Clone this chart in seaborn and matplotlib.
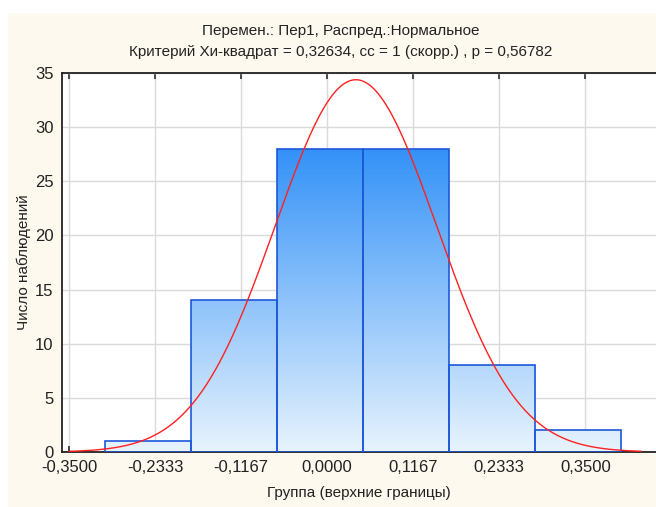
import numpy as np
import pandas as pd
import matplotlib
matplotlib.use("Agg")
import matplotlib.pyplot as plt
from matplotlib.patches import Rectangle
import seaborn as sns

# ---- data ----
bin_edges = [-0.3013, -0.1847, -0.0680, 0.0487, 0.1653, 0.2820, 0.3987]
counts = [1, 14, 28, 28, 8, 2]
tick_values = [-0.35, -0.2333, -0.1167, 0.0, 0.1167, 0.2333, 0.35]
tick_labels = ["-0,3500", "-0,2333", "-0,1167", "0,0000", "0,1167", "0,2333", "0,3500"]
y_ticks = [0, 5, 10, 15, 20, 25, 30, 35]
fit_mean = 0.039
fit_sd = 0.1096
curve_range = (-0.35, 0.4257)
title1 = "Перемен.: Пер1, Распред.:Нормальное"
title2 = "Критерий Хи-квадрат = 0,32634, cc = 1 (скорр.) , p = 0,56782"
xlabel = "Группа (верхние границы)"
ylabel = "Число наблюдений"

sns.set_theme(style="white")
plt.rcParams['font.family'] = ['Liberation Sans', 'DejaVu Sans']

W, H = 656, 507
fig = plt.figure(figsize=(W / 100, H / 100), dpi=100)
fig.patch.set_facecolor("white")
fig.patches.append(Rectangle((8 / W, 0), 1 - 8 / W, 1 - 13 / H, transform=fig.transFigure,
                             facecolor="#FEF9EE", edgecolor="none", zorder=-10))

ax = fig.add_axes([62 / W, 1 - 452 / H, (656 - 62) / W, (452 - 73) / H])
ax.set_facecolor("white")

centers = [(bin_edges[i] + bin_edges[i + 1]) / 2 for i in range(len(counts))]
df = pd.DataFrame({"x": centers, "w": counts})
sns.histplot(data=df, x="x", weights="w", bins=bin_edges, ax=ax,
             stat="count", element="bars", fill=True,
             facecolor="none", edgecolor="#1C58DA", linewidth=1.2, alpha=1)

ax.set_xlim(-0.3595, 0.4459)
ax.set_ylim(0, 35)

# gradient fill clipped to bars
grad = np.linspace(0, 1, 256).reshape(-1, 1)
c_low = np.array([0.91, 0.955, 0.995])
c_high = np.array([0.20, 0.57, 0.97])
img = c_low + (c_high - c_low) * (grad / (28 / 35))
img = np.clip(img, 0, 1).reshape(256, 1, 3)
for p in list(ax.patches):
    p.set_zorder(3)
    im = ax.imshow(img, extent=(-0.3595, 0.4459, 0, 35), origin="lower",
                   aspect="auto", zorder=2, interpolation="bilinear")
    im.set_clip_path(p)
ax.set_xlim(-0.3595, 0.4459)
ax.set_ylim(0, 35)

# fitted normal curve
n = sum(counts)
bw = bin_edges[1] - bin_edges[0]
xs = np.linspace(curve_range[0], curve_range[1], 400)
ys = n * bw * np.exp(-0.5 * ((xs - fit_mean) / fit_sd) ** 2) / (fit_sd * np.sqrt(2 * np.pi))
sns.lineplot(x=xs, y=ys, ax=ax, color="#FF2020", linewidth=1.0, zorder=4)

ax.set_xticks(tick_values)
ax.set_xticklabels(tick_labels)
ax.set_yticks(y_ticks)
ax.set_yticklabels([str(v) for v in y_ticks])
ax.grid(True, color="#DADADA", linewidth=1.0, zorder=0)
ax.set_axisbelow(True)
ax.tick_params(axis="x", direction="in", length=4, color="#333333", labelsize=12,
               top=True, bottom=True, pad=6, labelcolor="#222222")
ax.tick_params(axis="y", direction="in", length=0, labelsize=12, pad=6, labelcolor="#222222")
for s in ["top", "bottom", "left"]:
    ax.spines[s].set_visible(True)
    ax.spines[s].set_color("#222222")
    ax.spines[s].set_linewidth(1.3)
ax.spines["right"].set_visible(False)

ax.set_xlabel(xlabel, fontsize=11, color="#222222", labelpad=8)
ax.set_ylabel(ylabel, fontsize=11, color="#222222", labelpad=3)

fig.text(341 / W, 1 - 31 / H, title1, ha="center", va="center", fontsize=11, color="#222222")
fig.text(341 / W, 1 - 52 / H, title2, ha="center", va="center", fontsize=11, color="#222222")

fig.savefig("out.png", dpi=100, facecolor=fig.get_facecolor())
